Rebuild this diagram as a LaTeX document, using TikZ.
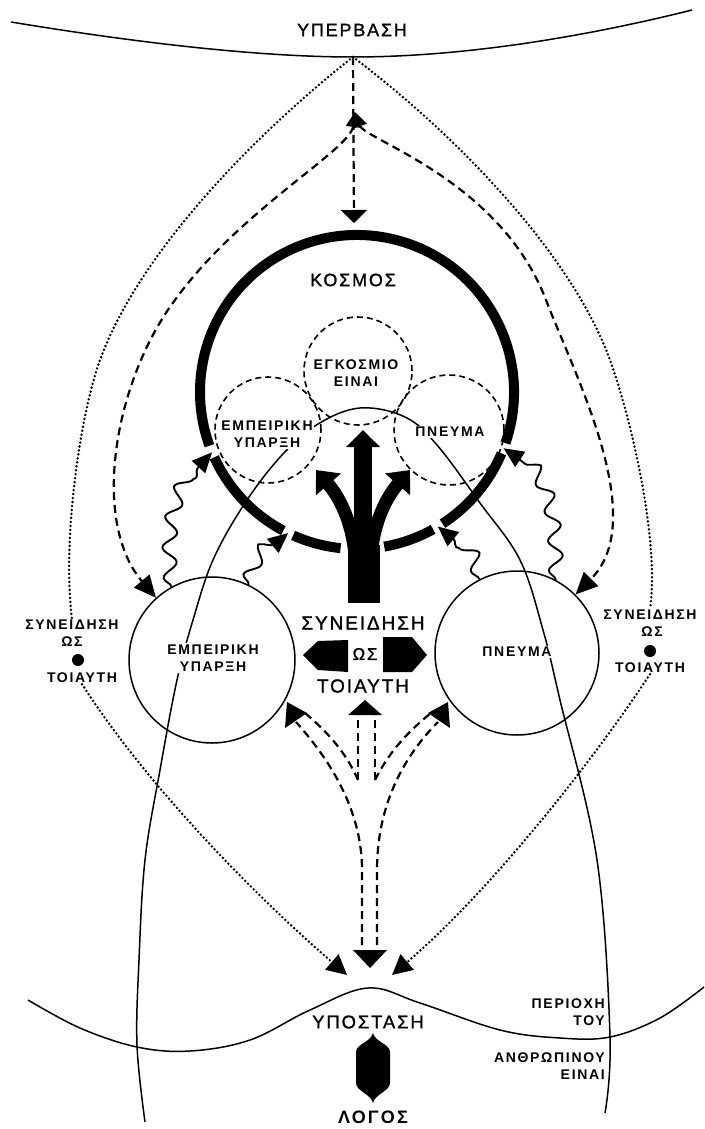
\documentclass[tikz,border=0pt]{standalone}
\usepackage{fontspec}
\setmainfont{Liberation Sans}
\newfontfamily\grk[LetterSpace=12]{Liberation Sans}
\newfontfamily\grkm[LetterSpace=10,FakeBold=1.2]{Liberation Sans}
\usetikzlibrary{arrows.meta,decorations.pathmorphing}
\begin{document}
\begin{tikzpicture}[
  x=1pt, y=1pt,
  >={Triangle[length=20pt,width=18pt]},
  thinln/.style={draw=black, line width=1.5pt},
  ringln/.style={draw=black, line width=10pt},
  dashln/.style={draw=black, line width=2.2pt, dash pattern=on 8pt off 5pt},
  dotln/.style={draw=black, line width=2.7pt, line cap=round, dash pattern=on 0pt off 4pt},
  dcirc/.style={circle, draw=black, line width=1.6pt, dash pattern=on 6pt off 4pt, inner sep=0pt},
  scirc/.style={circle, draw=black, line width=1.5pt, inner sep=0pt},
  cirlbl/.style={font={\grk\bfseries\fontsize{14}{17.5}\selectfont}, fill=white, inner sep=1.5pt, align=center},
  sidelbl/.style={font={\grk\bfseries\fontsize{14}{17}\selectfont}, inner sep=1pt, align=right},
  bigtxt/.style={font={\grkm\fontsize{18}{20}\selectfont}, inner sep=1pt},
  midtxt/.style={font={\grkm\fontsize{19}{22}\selectfont}, inner sep=1pt},
  dotmark/.style={circle, fill=black, inner sep=0pt, minimum size=12pt},
  waveln/.style={->, draw=black, line width=1.9pt, decorate, decoration={snake, amplitude=7pt, segment length=30pt, post length=14pt}}
]
\useasboundingbox (0,0) rectangle (704,-1129);
\node[bigtxt] (hyp) at (352,-30) {ΥΠΕΡΒΑΣΗ};
\coordinate (v) at (353,-57);
\coordinate (t) at (355,-112);
\draw[thinln] (11,-22) .. controls (120,-40) and (250,-57) .. (v) .. controls (460,-57) and (580,-38) .. (692,-10);
\coordinate (kosmos) at (357,-392);
\foreach \a/\b in {280/299, 303/337, 341/560, 204.6/242, 246/264}
  \draw[ringln] (kosmos) ++(\a:157) arc[start angle=\a, end angle=\b, radius=157];
\path (kosmos) ++(202.6:157) coordinate (k1);
\path (kosmos) ++(244:157) coordinate (k2);
\path (kosmos) ++(301:157) coordinate (k3);
\path (kosmos) ++(339:157) coordinate (k4);
\node[bigtxt] (kos) at (353,-280) {ΚΟΣΜΟΣ};
\node[dcirc, minimum size=108pt] (egk) at (358,-371) {};
\node[dcirc, minimum size=106pt] (empU) at (268,-430) {};
\node[dcirc, minimum size=110pt] (pneU) at (449,-430) {};
\node[scirc, minimum size=166pt] (empL) at (212,-660) {};
\node[scirc, minimum size=164pt] (pneL) at (517,-653) {};
\node[sidelbl] (sL1) at (72,-625) {ΣΥΝΕΙΔΗΣΗ};
\node[sidelbl] (sL2) at (72,-642) {ΩΣ};
\node[dotmark] (sLd) at (78,-660) {};
\node[sidelbl] (sL3) at (82,-678) {ΤΟΙΑΥΤΗ};
\node[sidelbl] (sR1) at (650,-615) {ΣΥΝΕΙΔΗΣΗ};
\node[sidelbl] (sR2) at (652,-632) {ΩΣ};
\node[dotmark] (sRd) at (650,-651) {};
\node[sidelbl] (sR3) at (650,-668) {ΤΟΙΑΥΤΗ};
\draw[thinln] plot[smooth, tension=0.6] coordinates {(145,-1122) (137,-1045) (139,-960) (145,-860) (160,-770) (177,-680) (193,-620) (213,-560) (245,-503) (282,-455) (318,-424) (360,-408) (405,-417) (437,-445) (480,-503) (520,-560) (543,-630) (560,-700) (597,-860) (610,-1037) (605,-1113)};
\draw[thinln] plot[smooth, tension=0.6] coordinates {(28,-1000) (80,-1028) (137,-1047) (190,-1051) (250,-1040) (310,-1010) (368,-988) (420,-1003) (500,-1030) (560,-1038) (610,-1037) (660,-1018) (704,-987)};
\node[cirlbl] (egkT) at (356,-373) {ΕΓΚΟΣΜΙΟ\\ΕΙΝΑΙ};
\node[cirlbl] (empUT) at (267,-434) {ΕΜΠΕΙΡΙΚΗ\\ΥΠΑΡΞΗ};
\node[cirlbl] (pneUT) at (450,-432) {ΠΝΕΥΜΑ};
\node[cirlbl] (empLT) at (213,-658) {ΕΜΠΕΙΡΙΚΗ\\ΥΠΑΡΞΗ};
\node[cirlbl] (pneLT) at (517,-652) {ΠΝΕΥΜΑ};
\draw[dotln] (v) .. controls (260,-130) and (140,-250) .. (100,-360) .. controls (80,-415) and (62,-540) .. (sL1.north);
\draw[dotln] (v) .. controls (450,-130) and (570,-250) .. (610,-360) .. controls (630,-415) and (660,-540) .. (sR1.north);
\draw[dashln, -{Triangle[length=13pt,width=26pt]}] (v) -- (354,-223);
\draw[dashln, {Triangle[length=15pt,width=14pt]}-{Triangle[length=22pt,width=20pt]}] (t) .. controls (350,-150) and (240,-210) .. (175,-300) .. controls (115,-380) and (90,-520) .. (empL.132);
\draw[dashln, {Triangle[length=15pt,width=14pt]}-{Triangle[length=22pt,width=20pt]}] (t) .. controls (365,-140) and (500,-180) .. (546,-300) .. controls (576,-378) and (650,-520) .. (pneL.45);
\draw[waveln] (empL.119) to[out=95,in=225] (k1);
\draw[waveln] (empL.64) to[out=80,in=220] (k2);
\draw[waveln] (pneL.117) to[out=100,in=-40] (k3);
\draw[waveln] (pneL.62) to[out=90,in=-30] (k4);
\fill (348,-603) rectangle (380,-545);
\draw[line width=18pt, -{Triangle[length=17pt,width=33pt]}] (363,-560) -- (363,-430);
\draw[line width=13pt, -{Triangle[length=19pt,width=32pt]}] (356,-575) .. controls (356,-530) and (342,-500) .. (316,-470);
\draw[line width=13pt, -{Triangle[length=19pt,width=32pt]}] (370,-575) .. controls (370,-530) and (384,-500) .. (410,-470);
\node[midtxt] (cs1) at (363,-623) {ΣΥΝΕΙΔΗΣΗ};
\node[font={\grkm\fontsize{17}{19}\selectfont}, inner sep=1pt] (cs2) at (365,-654) {ΩΣ};
\node[midtxt] (cs3) at (363,-686) {ΤΟΙΑΥΤΗ};
\fill (303,-655) -- (318,-641) -- (348,-640) -- (348,-672) -- (318,-670) -- cycle;
\fill (427,-655) -- (412,-637) -- (383,-637) -- (383,-672) -- (412,-672) -- cycle;
\draw[dashln] (362,-945) -- (362,-870) .. controls (362,-810) and (330,-760) .. (296,-722);
\draw[dashln] (358,-780) .. controls (345,-750) and (325,-730) .. (305,-713);
\draw[dashln] (358,-780) -- (358,-715);
\draw[dashln] (375,-780) -- (375,-715);
\draw[dashln] (375,-780) .. controls (390,-750) and (410,-730) .. (431,-713);
\draw[dashln] (377,-945) -- (377,-870) .. controls (377,-810) and (400,-760) .. (438,-722);
\fill (287,-702) -- (285,-728) -- (307,-713) -- cycle;
\fill (365,-700) -- (348,-715) -- (382,-715) -- cycle;
\fill (448,-702) -- (450,-728) -- (428,-713) -- cycle;
\fill (353,-950) -- (387,-950) -- (370,-968) -- cycle;
\draw[dotln, -{Triangle[length=20pt,width=20pt]}] (sL3.south) .. controls (150,-790) and (260,-900) .. (347,-975);
\draw[dotln, -{Triangle[length=20pt,width=20pt]}] (sR3.south) .. controls (580,-780) and (480,-900) .. (392,-975);
\node[font={\grkm\fontsize{18.5}{20}\selectfont}, inner sep=1pt] (hyst) at (368,-1022) {ΥΠΟΣΤΑΣΗ};
\fill (373,-1033) .. controls (371,-1042) and (356,-1044) .. (356,-1052) -- (356,-1083) .. controls (356,-1091) and (371,-1094) .. (373,-1103) .. controls (375,-1094) and (390,-1091) .. (390,-1083) -- (390,-1052) .. controls (390,-1044) and (375,-1042) .. (373,-1033) -- cycle;
\node[font={\grk\bfseries\fontsize{18}{20}\selectfont}, inner sep=1pt] (logos) at (373,-1117) {ΛΟΓΟΣ};
\node[sidelbl, anchor=east] (reg1) at (606,-1012) {ΠΕΡΙΟΧΗ\\ΤΟΥ};
\node[sidelbl, anchor=east] (reg2) at (606,-1066) {ΑΝΘΡΩΠΙΝΟΥ\\ΕΙΝΑΙ};
\end{tikzpicture}
\end{document}
